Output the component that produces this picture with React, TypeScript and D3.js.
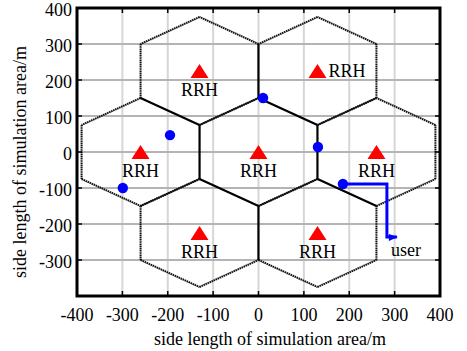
import * as d3 from 'd3'
import { useEffect, useRef } from 'react'

// axis ticks
const xTicks = [-400, -300, -200, -100, 0, 100, 200, 300, 400]
const yTicks = [-300, -200, -100, 0, 100, 200, 300, 400]

// cell layout (hexagon radius and centres, m)
const hexRadius = 150
const cellX = [0, -260, 260, -130, 130, -130, 130]
const cellY = [0, 0, 0, 225, 225, -225, -225]
const rrhLabelSide = ['below', 'below', 'below', 'below', 'right', 'below', 'below']

// users
const userX = [-195, -299, 10, 131, 186]
const userY = [47, -100, 150, 14, -89]

// moving user trajectory
const pathX = [186, 283, 283, 305]
const pathY = [-89, -89, -236, -236]

const W = 467
const H = 351
const margin = { left: 77, right: 27, top: 8, bottom: 55 }
const font = '"Liberation Serif", "Times New Roman", serif'

const App = () => {
  const ref = useRef<SVGSVGElement>(null)

  useEffect(() => {
    const svg = d3.select(ref.current)
    svg.selectAll('*').remove()

    const x = d3.scaleLinear().domain([-400, 400]).range([margin.left, W - margin.right])
    const y = d3.scaleLinear().domain([-400, 400]).range([H - margin.bottom, margin.top])

    // Grid
    const grid = svg.append('g')
    grid
      .selectAll('line.v')
      .data(xTicks.slice(1, -1))
      .join('line')
      .attr('x1', d => x(d))
      .attr('x2', d => x(d))
      .attr('y1', y(400))
      .attr('y2', y(-400))
      .style('stroke', '#d6d6d6')
      .style('stroke-width', 2)
    grid
      .selectAll('line.h')
      .data(yTicks.slice(0, -1))
      .join('line')
      .attr('x1', x(-400))
      .attr('x2', x(400))
      .attr('y1', d => y(d))
      .attr('y2', d => y(d))
      .style('stroke', '#b4b4b4')
      .style('stroke-width', 2)

    // Hexagon edges, shared ones are solid, outer ones dotted
    const edges = new Map<string, { a: number[]; b: number[]; n: number }>()
    cellX.forEach((cx, i) => {
      const cy = cellY[i]
      const pts = d3.range(6).map(k => {
        const ang = (Math.PI / 180) * (90 + 60 * k)
        return [cx + hexRadius * Math.cos(ang), cy + hexRadius * Math.sin(ang)]
      })
      pts.forEach((p, k) => {
        const q = pts[(k + 1) % 6]
        const key = `${Math.round((p[0] + q[0]) / 2)},${Math.round((p[1] + q[1]) / 2)}`
        const e = edges.get(key)
        if (e) e.n += 1
        else edges.set(key, { a: p, b: q, n: 1 })
      })
    })
    svg
      .append('g')
      .selectAll('line')
      .data(Array.from(edges.values()))
      .join('line')
      .attr('x1', d => x(d.a[0]))
      .attr('y1', d => y(d.a[1]))
      .attr('x2', d => x(d.b[0]))
      .attr('y2', d => y(d.b[1]))
      .style('stroke', d => (d.n > 1 ? '#000' : '#111'))
      .style('stroke-width', d => (d.n > 1 ? 2.2 : 2))
      .style('stroke-dasharray', d => (d.n > 1 ? null : '1.6,0.6'))

    // RRH triangles
    const rrh = svg.append('g')
    cellX.forEach((cx, i) => {
      const px = x(cx)
      const py = y(cellY[i])
      rrh
        .append('path')
        .attr('d', `M${px},${py - 7} L${px + 9},${py + 7} L${px - 9},${py + 7} Z`)
        .style('fill', '#ff0000')
      const side = rrhLabelSide[i]
      rrh
        .append('text')
        .attr('x', side === 'right' ? px + 11 : px)
        .attr('y', side === 'right' ? py + 6 : py + 25)
        .attr('text-anchor', side === 'right' ? 'start' : 'middle')
        .style('font-family', font)
        .style('font-size', '18px')
        .text('RRH')
    })

    // user trajectory
    const line = d3
      .line<number>()
      .x((d, i) => x(pathX[i]))
      .y((d, i) => y(pathY[i]))
    svg
      .append('path')
      .attr('d', line(pathX))
      .style('fill', 'none')
      .style('stroke', '#0000ff')
      .style('stroke-width', 3)
    const end = pathX.length - 1
    svg
      .append('path')
      .attr('d', `M${x(pathX[end]) - 8},${y(pathY[end]) - 3} L${x(pathX[end]) + 1},${y(pathY[end])} L${x(pathX[end]) - 8},${y(pathY[end]) + 4} Z`)
      .style('fill', '#0000ff')
    svg
      .append('text')
      .attr('x', x(pathX[end]) - 6)
      .attr('y', y(pathY[end]) + 19)
      .style('font-family', font)
      .style('font-size', '18px')
      .text('user')

    // users
    svg
      .append('g')
      .selectAll('circle')
      .data(userX)
      .join('circle')
      .attr('cx', d => x(d))
      .attr('cy', (d, i) => y(userY[i]))
      .attr('r', 5.2)
      .style('fill', '#0000ff')

    // Frame and inward ticks
    const ticks = svg.append('g').style('stroke', '#000').style('stroke-width', 1.5)
    xTicks.forEach(t => {
      ticks.append('line').attr('x1', x(t)).attr('x2', x(t)).attr('y1', y(400)).attr('y2', y(400) + 5)
      ticks.append('line').attr('x1', x(t)).attr('x2', x(t)).attr('y1', y(-400)).attr('y2', y(-400) - 5)
    })
    yTicks.forEach(t => {
      ticks.append('line').attr('x1', x(-400)).attr('x2', x(-400) + 5).attr('y1', y(t)).attr('y2', y(t))
      ticks.append('line').attr('x1', x(400)).attr('x2', x(400) - 5).attr('y1', y(t)).attr('y2', y(t))
    })
    svg
      .append('rect')
      .attr('x', x(-400))
      .attr('y', y(400))
      .attr('width', x(400) - x(-400))
      .attr('height', y(-400) - y(400))
      .style('fill', 'none')
      .style('stroke', '#000')
      .style('stroke-width', 3)

    // Tick labels
    svg
      .append('g')
      .selectAll('text')
      .data(xTicks)
      .join('text')
      .attr('x', d => x(d))
      .attr('y', y(-400) + 25)
      .attr('text-anchor', 'middle')
      .style('font-family', font)
      .style('font-size', '18px')
      .text(d => d)
    svg
      .append('g')
      .selectAll('text')
      .data(yTicks)
      .join('text')
      .attr('x', x(-400) - 5)
      .attr('y', d => y(d) + 8)
      .attr('text-anchor', 'end')
      .style('font-family', font)
      .style('font-size', '18px')
      .text(d => d)

    // Axis titles
    svg
      .append('text')
      .attr('x', 270)
      .attr('y', 345)
      .attr('text-anchor', 'middle')
      .style('font-family', font)
      .style('font-size', '18px')
      .text('side length of simulation area/m')
    svg
      .append('text')
      .attr('transform', `translate(26, 162) rotate(-90)`)
      .attr('text-anchor', 'middle')
      .style('font-family', font)
      .style('font-size', '18px')
      .text('side length of simulation area/m')
  }, [])

  return (
    <svg
      ref={ref}
      width={W}
      height={H}
      style={{ position: 'absolute', left: 0, top: 0, background: '#fff' }}
    />
  )
}

export default App
